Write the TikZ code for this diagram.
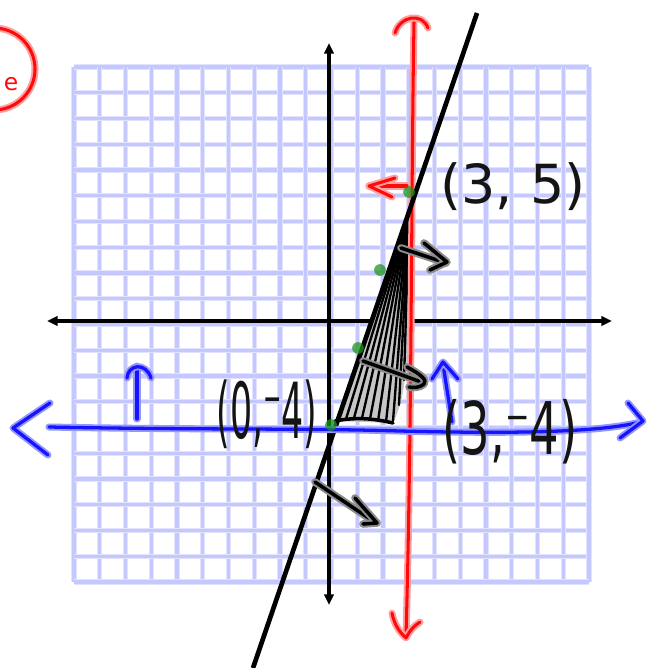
\documentclass[tikz,border=0pt]{standalone}
\usepackage{fontspec}
\usepackage{graphicx}
\usetikzlibrary{arrows.meta}
\newfontfamily\hand{DejaVu Sans}
\definecolor{gridblue}{RGB}{196,200,255}
\definecolor{gridhalo}{RGB}{226,228,255}
\definecolor{inkred}{RGB}{255,10,10}
\definecolor{redhalo}{RGB}{255,160,160}
\definecolor{inkblue}{RGB}{20,20,255}
\definecolor{bluehalo}{RGB}{150,150,255}
\definecolor{inkgreen}{RGB}{30,150,30}
\definecolor{blackhalo}{RGB}{140,140,140}
\definecolor{textink}{RGB}{20,20,20}
\tikzset{
  gridline/.style={draw=gridblue, line width=2.6pt, preaction={draw=gridhalo, line width=4.6pt}},
  axisline/.style={draw=black, line width=3.2pt, {Triangle[length=9pt,width=8pt]}-{Triangle[length=9pt,width=8pt]}},
  redink/.style={draw=inkred, line width=2.6pt, line cap=round, line join=round, preaction={draw=redhalo, line width=6pt, line cap=round, line join=round}},
  blueink/.style={draw=inkblue, line width=2.8pt, line cap=round, line join=round, preaction={draw=bluehalo, line width=6pt, line cap=round, line join=round}},
  blackink/.style={draw=black, line width=3pt, line cap=round, line join=round, preaction={draw=blackhalo, line width=6.5pt, line cap=round, line join=round}},
  solidline/.style={draw=black, line width=4pt},
  greendot/.style={circle, fill=inkgreen, fill opacity=0.75, inner sep=0pt, minimum size=10pt},
  handlabel/.style={text=textink, inner sep=0pt}
}
\begin{document}
\begin{tikzpicture}[x=0.03cm,y=-0.03cm]
\useasboundingbox (0,0) rectangle (647,668);
\clip (0,0) rectangle (647,668);
% grid
\foreach \i in {0,...,20}{
  \draw[gridline] ({74+25.75*\i},67) -- ({74+25.75*\i},582);
  \draw[gridline] (74,{67+25.75*\i}) -- (589,{67+25.75*\i});
}
% axes
\coordinate (yt) at (329,43);
\coordinate (yb) at (329,605);
\coordinate (xl) at (47,321);
\coordinate (xr) at (612,321);
\draw[axisline] (yb) -- (yt);
\draw[axisline] (xl) -- (xr);
% shaded region
\coordinate (apex) at (411,203);
\coordinate (bl) at (335,421);
\coordinate (br) at (393,423);
\fill[gray!45] (apex) -- (bl) -- (br) .. controls (402,405) and (407,380) .. (408,330) -- (409,250) -- cycle;
\foreach \xe/\ye in {338/420, 346/419, 354/418, 362/418, 370/419, 378/421, 386/422, 393/421, 399/405, 404/380}{
  \draw[black, line width=2pt, line cap=round] (409,215) -- (\xe,\ye);
}
\draw[black, line width=3pt, line cap=round] (bl) .. controls (360,416) and (380,420) .. (br);
% red vertical line
\coordinate (rt) at (414,22);
\coordinate (rb) at (406,636);
\draw[redink] (rt) .. controls (411,200) and (412,420) .. (rb);
\draw[redink] (395,33) .. controls (400,16) and (422,12) .. (428,28);
\draw[redink] (392,613) .. controls (395,628) and (402,634) .. (406,638) .. controls (410,630) and (415,625) .. (420,622);
% red left arrow
\coordinate (ra1) at (407,186);
\coordinate (ra2) at (369,186);
\draw[redink] (ra1) -- (ra2);
\draw[redink] (395,178) -- (ra2) -- (392,197);
% black line y = 3x - 4
\coordinate (lt) at (477,13);
\coordinate (lb) at (253,668);
\draw[solidline] (lt) -- (lb);
% blue horizontal line
\coordinate (bL) at (49,427);
\coordinate (bR) at (641,422);
\draw[blueink] (bL) .. controls (200,430) and (300,428) .. (400,431) .. controls (520,434) and (600,432) .. (bR);
\draw[blueink] (50,403) -- (13,428) -- (48,455);
\draw[blueink] (628,403) -- (643,421) -- (620,438);
% blue up arrows
\coordinate (ua1) at (137,419);
\coordinate (ua2) at (137,366);
\draw[blueink] (ua1) -- (ua2);
\draw[blueink] (127,378) .. controls (128,364) and (146,362) .. (151,378);
\coordinate (ub1) at (452,422);
\coordinate (ub2) at (443,364);
\draw[blueink] (ub1) -- (ub2);
\draw[blueink] (432,379) -- (443,362) -- (458,379);
% black small arrows
\coordinate (k1a) at (401,248);
\coordinate (k1b) at (446,263);
\draw[blackink] (k1a) -- (k1b);
\draw[blackink] (424,243) -- (447,262) -- (430,270);
\coordinate (k2a) at (363,361);
\coordinate (k2b) at (424,383);
\draw[blackink] (k2a) -- (k2b);
\draw[blackink] (407,367) .. controls (420,374) and (428,380) .. (424,384) .. controls (420,388) and (412,388) .. (409,387);
\coordinate (k3a) at (315,482);
\coordinate (k3b) at (376,523);
\draw[blackink] (k3a) -- (k3b);
\draw[blackink] (355,498) -- (377,523) -- (363,524);
% green dots
\node[greendot] (g1) at (409,192) {};
\node[greendot] (g2) at (380,270) {};
\node[greendot] (g3) at (358,348) {};
\node[greendot] (g4) at (331,425) {};
% labels
\node[handlabel] (p35) at (513,187) {\hand\fontsize{46}{46}\selectfont (3, 5)};
\node[handlabel] (p04) at (267,414) {\scalebox{0.45}[1]{\hand\fontsize{66}{66}\selectfont (0,⁻4)}};
\node[handlabel] (p34) at (510,432) {\scalebox{0.64}[1]{\hand\fontsize{62}{62}\selectfont (3,⁻4)}};
% circled e
\draw[redink] (-6,69) ellipse [x radius=41, y radius=41];
\node[text=inkred, inner sep=0pt] (e) at (11,84) {\hand\fontsize{20}{20}\selectfont e};
\end{tikzpicture}
\end{document}
